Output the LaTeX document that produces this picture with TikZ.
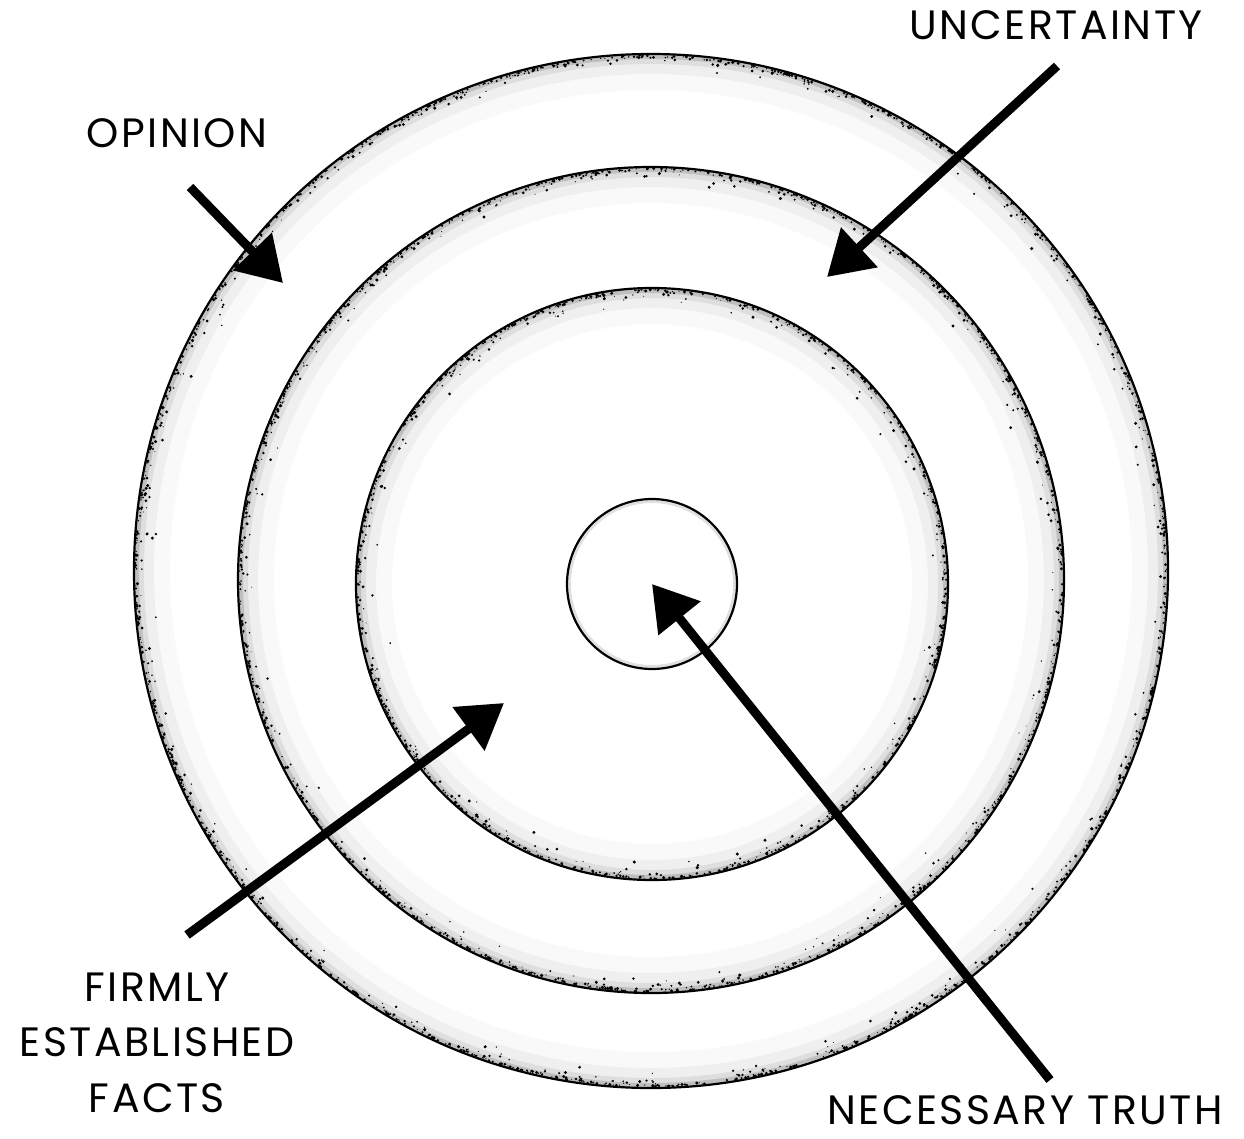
\documentclass[tikz,border=0pt]{standalone}
\usepackage{fontspec}
\usepackage{tikz}
\usetikzlibrary{arrows.meta}
\newfontfamily\labelfont[LetterSpace=6]{Poppins}

\tikzset{
  wordlabel/.style={font=\labelfont\fontsize{41}{55.5}\selectfont, inner sep=0pt, align=center},
  ringline/.style={line width=2.2pt},
  pointer/.style={line width=9pt, -{Triangle[length=44pt,width=52pt]}},
}

\begin{document}
\begin{tikzpicture}[x=1pt,y=-1pt]
\useasboundingbox (0,0) rectangle (1244,1138);
\pgfmathsetseed{7}
% --- three big rings, each with a grainy band just inside its edge ---
\foreach \cx/\cy/\r/\n in {651/571/517/1300, 651/580/413/1050, 652/584/296/760}{
  \draw[line width=36pt,black,opacity=0.025] (\cx,\cy) circle (\r-18);
  \draw[line width=20pt,black,opacity=0.04] (\cx,\cy) circle (\r-10);
  \draw[line width=10pt,black,opacity=0.07] (\cx,\cy) circle (\r-5);
  \draw[line width=5pt,black,opacity=0.14] (\cx,\cy) circle (\r-2.5);
  % grain
  \foreach \i in {1,...,\n}{
    \pgfmathsetmacro\a{360*rnd}
    \pgfmathsetmacro\rr{\r-1.5-34*rnd*rnd*rnd*rnd}
    \pgfmathsetmacro\s{0.5+1.2*rnd}
    \fill (\cx,\cy) ++(\a:\rr) circle (\s);
  }
  \draw[ringline] (\cx,\cy) circle (\r);
}
% --- innermost circle ---
\draw[line width=4pt,black,opacity=0.12] (652,584) circle (83);
\node[circle, draw, ringline, minimum size=170pt, inner sep=0pt] (core) at (652,584) {};

% --- labels ---
\node[wordlabel] (opinion) at (177,133.5) {OPINION};
\node[wordlabel] (uncert) at (1056,25.5) {UNCERTAINTY};
\node[wordlabel] (facts) at (157,1042.5) {FIRMLY\\ESTABLISHED\\FACTS};
\node[wordlabel] (truth) at (1025,1110) {NECESSARY TRUTH};

% --- pointers ---
\coordinate (opinion tail) at (190,187);
\coordinate (opinion tip) at (283,283);
\coordinate (uncert tail) at (1057,66);
\coordinate (uncert tip) at (827,277);
\coordinate (facts tail) at (187,935);
\coordinate (facts tip) at (504,703);
\coordinate (truth tail) at (1050,1080);
\draw[pointer] (opinion tail) -- (opinion tip);
\draw[pointer] (uncert tail) -- (uncert tip);
\draw[pointer] (facts tail) -- (facts tip);
\draw[pointer] (truth tail) -- (core.center);
\end{tikzpicture}
\end{document}
